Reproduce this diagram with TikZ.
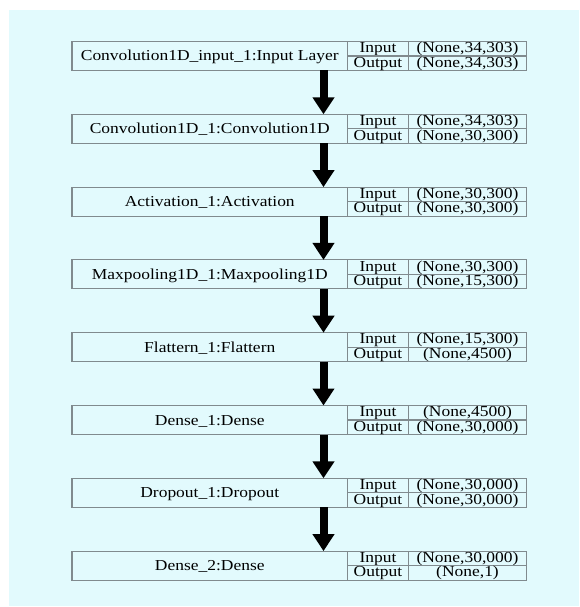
\documentclass[tikz,border=0pt]{standalone}
\usepackage{fontspec}
\setmainfont{Liberation Serif}[FakeStretch=1.15]
\usepackage{tikz}
\usetikzlibrary{arrows.meta,positioning}
\definecolor{bgcyan}{RGB}{226,250,253}
\definecolor{rulegray}{RGB}{128,138,142}

\begin{document}
\begin{tikzpicture}[x=1pt, y=1pt,
  node distance=43.8pt and 0pt,
  font=\fontsize{15.2}{16}\selectfont,
  layer/.style={draw=rulegray, line width=1.1pt, inner sep=0pt, outer sep=0pt, minimum width=275.5pt, minimum height=29pt, text height=10pt, text depth=0pt},
  cell/.style={draw=rulegray, line width=1.1pt, inner sep=0pt, outer sep=0pt, minimum height=14.5pt, text height=11pt, text depth=3pt},
  io/.style={cell, minimum width=61pt},
  dimcell/.style={cell, minimum width=118pt},
  flow/.style={line width=8pt, -{Triangle[width=21pt, length=17pt]}}]
\useasboundingbox (0,0) rectangle (579,-607);
\fill[bgcyan] (9,-10) rectangle (579,-606);
% layers
\node[layer, anchor=north west] (lay1) at (72,-41.5) {Convolution1D\_input\_1:Input Layer};
\node[io, anchor=north west] (in1) at (lay1.north east) {Input};
\node[io, below=0pt of in1] (out1) {Output};
\node[dimcell, right=0pt of in1] (inv1) {(None,34,303)};
\node[dimcell, right=0pt of out1] (outv1) {(None,34,303)};

\node[layer, below=of lay1] (lay2) {Convolution1D\_1:Convolution1D};
\node[io, anchor=north west] (in2) at (lay2.north east) {Input};
\node[io, below=0pt of in2] (out2) {Output};
\node[dimcell, right=0pt of in2] (inv2) {(None,34,303)};
\node[dimcell, right=0pt of out2] (outv2) {(None,30,300)};

\node[layer, below=of lay2] (lay3) {Activation\_1:Activation};
\node[io, anchor=north west] (in3) at (lay3.north east) {Input};
\node[io, below=0pt of in3] (out3) {Output};
\node[dimcell, right=0pt of in3] (inv3) {(None,30,300)};
\node[dimcell, right=0pt of out3] (outv3) {(None,30,300)};

\node[layer, below=of lay3] (lay4) {Maxpooling1D\_1:Maxpooling1D};
\node[io, anchor=north west] (in4) at (lay4.north east) {Input};
\node[io, below=0pt of in4] (out4) {Output};
\node[dimcell, right=0pt of in4] (inv4) {(None,30,300)};
\node[dimcell, right=0pt of out4] (outv4) {(None,15,300)};

\node[layer, below=of lay4] (lay5) {Flattern\_1:Flattern};
\node[io, anchor=north west] (in5) at (lay5.north east) {Input};
\node[io, below=0pt of in5] (out5) {Output};
\node[dimcell, right=0pt of in5] (inv5) {(None,15,300)};
\node[dimcell, right=0pt of out5] (outv5) {(None,4500)};

\node[layer, below=of lay5] (lay6) {Dense\_1:Dense};
\node[io, anchor=north west] (in6) at (lay6.north east) {Input};
\node[io, below=0pt of in6] (out6) {Output};
\node[dimcell, right=0pt of in6] (inv6) {(None,4500)};
\node[dimcell, right=0pt of out6] (outv6) {(None,30,000)};

\node[layer, below=of lay6] (lay7) {Dropout\_1:Dropout};
\node[io, anchor=north west] (in7) at (lay7.north east) {Input};
\node[io, below=0pt of in7] (out7) {Output};
\node[dimcell, right=0pt of in7] (inv7) {(None,30,000)};
\node[dimcell, right=0pt of out7] (outv7) {(None,30,000)};

\node[layer, below=of lay7] (lay8) {Dense\_2:Dense};
\node[io, anchor=north west] (in8) at (lay8.north east) {Input};
\node[io, below=0pt of in8] (out8) {Output};
\node[dimcell, right=0pt of in8] (inv8) {(None,30,000)};
\node[dimcell, right=0pt of out8] (outv8) {(None,1)};
% arrows
\draw[flow] ([xshift=-24pt]lay1.south east) -- ([xshift=-24pt]lay2.north east);
\draw[flow] ([xshift=-24pt]lay2.south east) -- ([xshift=-24pt]lay3.north east);
\draw[flow] ([xshift=-24pt]lay3.south east) -- ([xshift=-24pt]lay4.north east);
\draw[flow] ([xshift=-24pt]lay4.south east) -- ([xshift=-24pt]lay5.north east);
\draw[flow] ([xshift=-24pt]lay5.south east) -- ([xshift=-24pt]lay6.north east);
\draw[flow] ([xshift=-24pt]lay6.south east) -- ([xshift=-24pt]lay7.north east);
\draw[flow] ([xshift=-24pt]lay7.south east) -- ([xshift=-24pt]lay8.north east);
\end{tikzpicture}
\end{document}
